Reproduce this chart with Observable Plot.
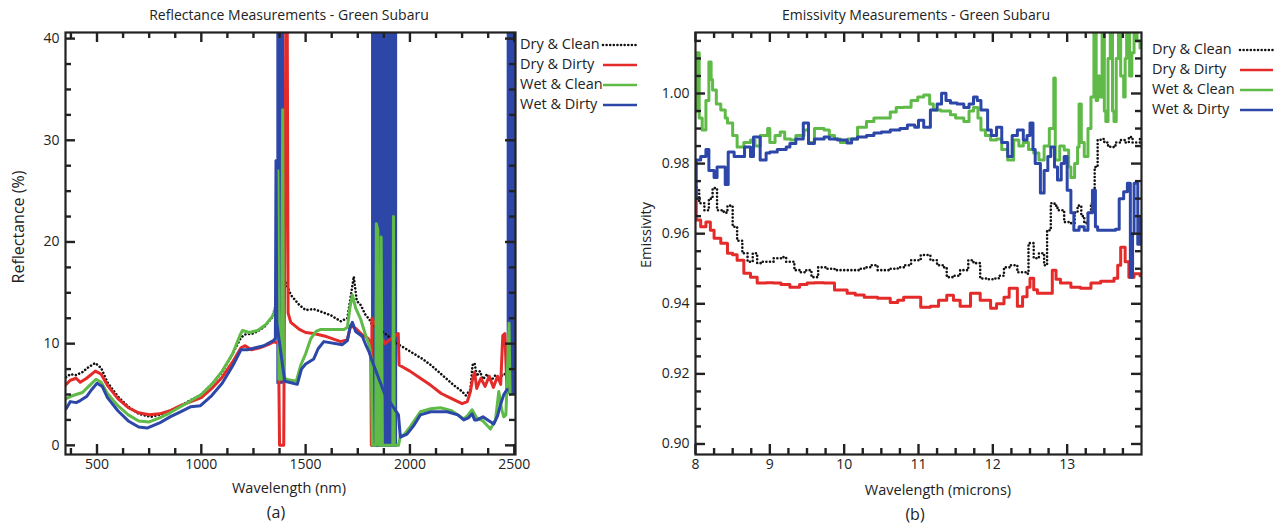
<!DOCTYPE html>
<html><head><meta charset="utf-8">
<script src="https://cdn.jsdelivr.net/npm/d3@7"></script>
<script src="https://cdn.jsdelivr.net/npm/@observablehq/plot@0.6"></script>
<style>
body{margin:0;background:#fff;font-family:"Open Sans",sans-serif;}
#wrap{position:relative;width:1278px;height:528px;overflow:hidden;background:#fff;}
.abs{position:absolute;white-space:nowrap;color:#222;line-height:1;}
.plot{position:absolute;top:0;}
</style></head><body><div id="wrap"></div>
<script>
// ---------- Panel (a): Reflectance (%) vs wavelength (nm) ----------
const dryCleanA = [[352,6.7],[372,7.0],[400,6.9],[430,7.2],[460,7.7],[492,8.1],[520,7.6],[550,6.2],[600,4.8],[650,3.8],[700,3.1],[757,2.8],[800,3.0],[850,3.4],[900,3.9],[963,4.6],[1000,5.0],[1050,6.0],[1100,7.2],[1150,9.0],[1190,10.6],[1210,10.9],[1250,11.0],[1300,11.6],[1340,12.6],[1360,14.0],[1375,13.0],[1390,14.5],[1405,16.0],[1429,14.8],[1470,13.8],[1500,13.3],[1539,13.4],[1580,13.1],[1620,12.8],[1668,12.2],[1700,12.5],[1715,14.5],[1731,16.6],[1745,14.2],[1764,13.8],[1785,12.9],[1805,12.4],[1815,12.0],[1880,11],[1946,9.9],[1980,9.5],[2020,9.0],[2060,8.5],[2100,7.9],[2150,7.0],[2211,5.9],[2250,5.3],[2268,4.9],[2290,5.5],[2300,7.9],[2310,8.1],[2320,6.8],[2335,7.3],[2350,6.5],[2370,7.0],[2390,6.4],[2410,6.9],[2430,6.5],[2445,7.0],[2460,7.0]];
const dryDirtyA = [[352,6.0],[372,6.4],[400,6.6],[420,6.2],[450,6.6],[492,7.3],[520,7.0],[550,5.9],[600,4.6],[650,3.7],[700,3.2],[750,3.0],[800,3.1],[850,3.4],[900,3.9],[950,4.3],[1000,4.7],[1050,5.6],[1100,6.7],[1150,8.2],[1190,9.6],[1210,9.8],[1240,9.4],[1280,9.6],[1320,9.9],[1350,10.2],[1370,10.0],[1375,0],[1395,0],[1400,20],[1405,41],[1412,41],[1416,13.0],[1429,12.1],[1470,11.4],[1500,11.1],[1539,11.0],[1600,10.7],[1668,10.2],[1700,10.4],[1716,11.8],[1740,11.5],[1770,10.9],[1800,10.5],[1812,10.0],[1815,0],[1818,12.5],[1880,10],[1944,11],[1948,7.9],[2000,7.3],[2050,6.6],[2100,5.9],[2150,5.1],[2200,4.6],[2250,4.1],[2275,4.3],[2290,5.3],[2300,6.5],[2310,7.2],[2320,5.6],[2340,6.6],[2360,5.8],[2380,6.8],[2400,5.7],[2420,6.8],[2435,6.0],[2445,10.8],[2455,11.0],[2465,5.5]];
const wetCleanA = [[352,4.6],[372,4.8],[400,5.0],[430,5.2],[460,5.8],[495,6.5],[520,6.2],[550,5.1],[600,3.9],[650,3.0],[700,2.4],[750,2.3],[800,2.7],[850,3.2],[900,3.8],[950,4.4],[1000,5.0],[1050,6.0],[1100,7.3],[1150,9.0],[1185,10.8],[1197,11.3],[1230,11.1],[1270,11.3],[1310,11.9],[1345,12.8],[1362,14],[1367,27],[1372,6.5],[1384,6.5],[1390,33],[1394,7],[1405,6.5],[1429,6.4],[1455,6.3],[1477,7.9],[1500,9.0],[1525,10.5],[1550,11.2],[1573,11.4],[1684,11.4],[1700,11.6],[1712,13.5],[1724,14.8],[1740,13.5],[1764,12.4],[1785,11.0],[1804,9.9],[1815,8.5],[1820,0],[1836,0],[1839,21.8],[1846,21.2],[1850,0],[1858,0],[1862,20.5],[1868,0],[1918,0],[1921,22.5],[1925,0],[1945,0],[1955,1.0],[1970,1.0],[2000,1.8],[2050,3.3],[2100,3.6],[2146,3.7],[2200,3.4],[2258,2.6],[2275,2.9],[2298,3.5],[2320,2.7],[2350,2.4],[2386,1.6],[2410,2.5],[2426,5.3],[2440,3.5],[2450,2.8],[2460,3.0],[2475,12],[2480,5]];
const wetDirtyA = [[352,3.6],[372,4.3],[400,4.2],[420,4.4],[450,4.8],[475,5.5],[500,6.1],[525,5.8],[550,4.7],[600,3.4],[650,2.4],[700,1.8],[740,1.7],[800,2.2],[850,2.8],[900,3.3],[950,3.8],[996,3.9],[1050,4.9],[1100,6.1],[1150,7.8],[1190,9.4],[1221,9.4],[1260,9.6],[1300,9.8],[1345,10.3],[1355,10.5],[1358,28],[1362,12],[1400,6.3],[1420,6.2],[1460,6.0],[1480,7.5],[1500,8.0],[1539,8.5],[1560,9.5],[1587,10.2],[1676,9.9],[1700,10.3],[1712,11.5],[1724,12.1],[1740,11.2],[1772,10.7],[1790,9.8],[1804,9.2],[1815,8.5],[1880,5],[1945,3],[1954,0.8],[1986,1.1],[2020,2.0],[2050,3.0],[2100,3.3],[2178,3.3],[2230,3.0],[2258,2.5],[2280,2.7],[2298,3.1],[2310,2.5],[2322,2.5],[2350,2.8],[2380,2.4],[2402,2.1],[2420,2.9],[2434,4.0],[2450,5.0],[2466,5.5]];
// saturated (rapidly oscillating) Wet & Dirty absorption bands: [start nm, end nm, low %, high %]
const wetDirtyBandsA = [[1362,1400,6,41],[1816,1941,-0.2,41],[2466,2506,5,41]];
const xMajorA = [500,1000,1500,2000,2500];
const xMinorA = [375,625,750,875,1125,1250,1375,1625,1750,1875,2125,2250,2375];
const yMajorA = [0,10,20,30,40];
const yMinorA = [2.5,5,7.5,12.5,15,17.5,22.5,25,27.5,32.5,35,37.5];

// ---------- Panel (b): Emissivity vs wavelength (microns) ----------
const dryCleanB = [[8.00,0.9724],[8.05,0.9687],[8.12,0.9667],[8.18,0.970],[8.23,0.973],[8.29,0.9667],[8.38,0.966],[8.43,0.968],[8.50,0.962],[8.56,0.958],[8.63,0.9544],[8.70,0.952],[8.77,0.9544],[8.83,0.9516],[8.90,0.952],[8.97,0.952],[9.05,0.953],[9.15,0.9533],[9.22,0.952],[9.33,0.9496],[9.40,0.949],[9.49,0.9496],[9.56,0.9476],[9.65,0.9504],[9.75,0.950],[9.87,0.9496],[10.00,0.9496],[10.10,0.9496],[10.20,0.950],[10.27,0.9504],[10.35,0.951],[10.45,0.9496],[10.60,0.950],[10.72,0.9504],[10.82,0.951],[10.90,0.9524],[11.03,0.9539],[11.16,0.9524],[11.25,0.951],[11.34,0.9504],[11.38,0.9476],[11.47,0.948],[11.56,0.9496],[11.67,0.9524],[11.74,0.9516],[11.83,0.9472],[11.92,0.947],[12.00,0.9472],[12.08,0.948],[12.15,0.9504],[12.24,0.951],[12.33,0.949],[12.44,0.9486],[12.48,0.9573],[12.55,0.953],[12.62,0.9544],[12.69,0.951],[12.73,0.961],[12.78,0.9687],[12.83,0.968],[12.87,0.9667],[12.96,0.9633],[13.05,0.963],[13.10,0.966],[13.14,0.968],[13.19,0.965],[13.23,0.963],[13.28,0.966],[13.32,0.9687],[13.37,0.979],[13.41,0.9867],[13.45,0.987],[13.50,0.986],[13.55,0.985],[13.58,0.9847],[13.65,0.986],[13.72,0.9867],[13.78,0.986],[13.83,0.9876],[13.88,0.986],[13.94,0.986],[13.98,0.987]];
const dryDirtyB = [[8.00,0.9733],[8.01,0.9639],[8.07,0.962],[8.14,0.9633],[8.20,0.961],[8.25,0.9587],[8.34,0.9573],[8.43,0.9544],[8.50,0.954],[8.56,0.9524],[8.65,0.9487],[8.74,0.9476],[8.83,0.9459],[8.95,0.946],[9.05,0.9459],[9.15,0.9455],[9.27,0.9447],[9.40,0.9455],[9.50,0.9459],[9.60,0.946],[9.73,0.9459],[9.87,0.9439],[10.04,0.943],[10.15,0.9425],[10.27,0.9419],[10.45,0.9416],[10.62,0.9404],[10.72,0.941],[10.80,0.9419],[10.95,0.9419],[11.03,0.939],[11.16,0.9393],[11.27,0.941],[11.38,0.9424],[11.47,0.941],[11.56,0.9393],[11.70,0.943],[11.83,0.941],[11.97,0.9387],[12.05,0.940],[12.15,0.9419],[12.22,0.9444],[12.33,0.9393],[12.40,0.942],[12.46,0.9447],[12.50,0.9473],[12.55,0.944],[12.60,0.943],[12.73,0.943],[12.80,0.9496],[12.85,0.947],[12.91,0.9459],[13.05,0.9447],[13.18,0.9444],[13.32,0.9459],[13.45,0.9464],[13.63,0.9473],[13.68,0.951],[13.72,0.9561],[13.78,0.952],[13.83,0.9476],[13.90,0.9486],[13.98,0.948]];
const wetCleanB = [[8.00,0.995],[8.02,1.0116],[8.05,0.993],[8.09,0.9896],[8.14,0.998],[8.18,1.009],[8.21,1.004],[8.23,1.001],[8.28,0.997],[8.34,0.9953],[8.40,0.993],[8.43,0.9916],[8.50,0.988],[8.56,0.9847],[8.65,0.986],[8.74,0.9867],[8.80,0.985],[8.87,0.988],[8.97,0.990],[9.00,0.986],[9.07,0.988],[9.14,0.989],[9.20,0.987],[9.28,0.9867],[9.35,0.988],[9.46,0.9896],[9.52,0.986],[9.60,0.990],[9.73,0.9896],[9.80,0.988],[9.87,0.987],[9.95,0.986],[10.05,0.987],[10.18,0.9904],[10.30,0.992],[10.40,0.993],[10.50,0.993],[10.62,0.9947],[10.70,0.996],[10.80,0.9961],[10.90,0.998],[10.99,0.999],[11.07,0.9996],[11.15,0.997],[11.20,0.9953],[11.30,0.995],[11.43,0.9939],[11.50,0.993],[11.61,0.992],[11.68,0.995],[11.74,0.996],[11.80,0.993],[11.84,0.9896],[11.90,0.988],[11.97,0.9867],[12.05,0.987],[12.12,0.984],[12.20,0.981],[12.28,0.9867],[12.35,0.985],[12.41,0.986],[12.48,0.984],[12.55,0.983],[12.62,0.981],[12.69,0.985],[12.76,0.990],[12.82,1.0044],[12.84,0.981],[12.90,0.985],[12.96,0.9839],[13.02,0.979],[13.05,0.976],[13.10,0.980],[13.14,0.9847],[13.16,0.997],[13.19,0.986],[13.23,0.982],[13.28,0.990],[13.32,0.999],[13.36,1.02],[13.39,0.998],[13.41,1.005],[13.44,0.999],[13.47,1.02],[13.50,0.995],[13.52,0.992],[13.55,1.01],[13.58,1.02],[13.61,0.995],[13.63,0.992],[13.66,1.01],[13.69,1.02],[13.72,1.005],[13.76,0.999],[13.78,1.01],[13.80,1.02],[13.84,1.005],[13.87,1.0116],[13.90,1.02],[13.94,1.015],[13.98,1.013]];
const wetDirtyB = [[8.00,0.970],[8.01,0.981],[8.07,0.982],[8.14,0.984],[8.18,0.978],[8.25,0.976],[8.29,0.979],[8.36,0.979],[8.40,0.974],[8.44,0.9833],[8.52,0.982],[8.60,0.982],[8.66,0.9847],[8.74,0.982],[8.78,0.9876],[8.87,0.981],[8.95,0.983],[9.00,0.9833],[9.10,0.984],[9.22,0.9847],[9.27,0.9857],[9.35,0.987],[9.45,0.9916],[9.52,0.9857],[9.60,0.987],[9.73,0.9876],[9.80,0.987],[9.91,0.9867],[10.04,0.9859],[10.10,0.987],[10.18,0.9876],[10.30,0.988],[10.40,0.9887],[10.50,0.989],[10.62,0.9896],[10.75,0.990],[10.85,0.991],[10.95,0.9904],[11.00,0.9924],[11.07,0.9904],[11.16,0.9953],[11.25,0.997],[11.31,1.0001],[11.37,0.998],[11.43,0.9973],[11.52,0.997],[11.61,0.996],[11.68,0.997],[11.74,0.999],[11.79,0.998],[11.84,0.9953],[11.93,0.9896],[11.98,0.988],[12.05,0.9904],[12.12,0.986],[12.20,0.982],[12.26,0.988],[12.33,0.9896],[12.41,0.9867],[12.46,0.988],[12.50,0.9916],[12.54,0.984],[12.57,0.980],[12.64,0.9716],[12.69,0.978],[12.74,0.982],[12.78,0.9847],[12.83,0.979],[12.87,0.9753],[12.92,0.980],[12.96,0.982],[13.00,0.9724],[13.05,0.966],[13.09,0.961],[13.16,0.962],[13.23,0.961],[13.28,0.966],[13.34,0.9724],[13.38,0.962],[13.41,0.961],[13.50,0.961],[13.58,0.961],[13.65,0.9613],[13.70,0.970],[13.76,0.972],[13.81,0.9744],[13.85,0.9476],[13.88,0.960],[13.90,0.9744],[13.95,0.957],[13.98,0.965]];
const xMajorB = [8,9,10,11,12,13];
const xMinorB = [8.25,8.5,8.75,9.25,9.5,9.75,10.25,10.5,10.75,11.25,11.5,11.75,12.25,12.5,12.75,13.25,13.5,13.75];
const yMajorB = [0.90,0.92,0.94,0.96,0.98,1.00];
const yMinorB = [0.905,0.91,0.915,0.925,0.93,0.935,0.945,0.95,0.955,0.965,0.97,0.975,0.985,0.99,0.995,1.005,1.01,1.015];

const seriesNames = ["Dry & Clean","Dry & Dirty","Wet & Clean","Wet & Dirty"];
const seriesColors = ["#111111","#e52a2a","#5fba47","#2d47a9"];

const FONT = '"Open Sans", sans-serif';
const INK = "#222";
const H = 528, MT = 32, MB = 74;
const innerH = H - MT - MB;

// inward-pointing ticks on all four sides of the frame, as short rules
function frameMarks(innerW, xDom, yDom, xMaj, xMin, yMaj, yMin, fmtX, fmtY) {
  const s = {stroke: INK, strokeWidth: 2.4};
  const ky = (yDom[1] - yDom[0]) / innerH;   // data units per pixel (y)
  const kx = (xDom[1] - xDom[0]) / innerW;   // data units per pixel (x)
  const tx = (ticks, len) => [
    Plot.ruleX(ticks, {...s, x: d => d, y1: yDom[0], y2: yDom[0] + len * ky}),
    Plot.ruleX(ticks, {...s, x: d => d, y1: yDom[1], y2: yDom[1] - len * ky})
  ];
  const ty = (ticks, len) => [
    Plot.ruleY(ticks, {...s, y: d => d, x1: xDom[0], x2: xDom[0] + len * kx}),
    Plot.ruleY(ticks, {...s, y: d => d, x1: xDom[1], x2: xDom[1] - len * kx})
  ];
  return [
    ...tx(xMaj, 10), ...tx(xMin, 6), ...ty(yMaj, 10), ...ty(yMin, 6),
    Plot.frame({stroke: INK, strokeWidth: 2.2}),
    Plot.axisX({anchor: "bottom", ticks: xMaj, tickSize: 0, tickPadding: 5, tickFormat: fmtX, label: null, fontSize: 14, fill: INK}),
    Plot.axisY({anchor: "left", ticks: yMaj, tickSize: 0, tickPadding: 6, tickFormat: fmtY, label: null, fontSize: 14, fill: INK})
  ];
}

function lineMarks(sets, curve, w) {
  return sets.map((data, i) => {
    const o = {x: d => d[0], y: d => d[1], stroke: seriesColors[i], strokeWidth: w, curve, clip: true};
    if (i === 0) Object.assign(o, {strokeWidth: 2.6, strokeDasharray: "0.01,3.6", strokeLinecap: "round"});
    return Plot.line(data, o);
  });
}

const wrap = document.getElementById("wrap");

const WA = 640, MLA = 65, MRA = 125;
const xDomA = [349, 2506], yDomA = [-0.9, 40.6];
const plotA = Plot.plot({
  width: WA, height: H,
  marginLeft: MLA, marginRight: MRA, marginTop: MT, marginBottom: MB,
  style: {fontFamily: FONT, background: "transparent", color: INK},
  x: {domain: xDomA},
  y: {domain: yDomA},
  marks: [
    Plot.rect(wetDirtyBandsA, {x1: d => d[0], x2: d => d[1], y1: d => d[2], y2: d => d[3], fill: seriesColors[3], clip: true}),
    ...lineMarks([dryCleanA, dryDirtyA, wetCleanA, wetDirtyA], "linear", 3),
    ...frameMarks(WA - MLA - MRA, xDomA, yDomA, xMajorA, xMinorA, yMajorA, yMinorA, d => String(d), d => String(d))
  ]
});
plotA.classList.add("plot"); plotA.style.left = "0px";
wrap.appendChild(plotA);

const WB = 638, MLB = 55, MRB = 137;
const xDomB = [8, 14], yDomB = [0.897, 1.0174];
const plotB = Plot.plot({
  width: WB, height: H,
  marginLeft: MLB, marginRight: MRB, marginTop: MT, marginBottom: MB,
  style: {fontFamily: FONT, background: "transparent", color: INK},
  x: {domain: xDomB},
  y: {domain: yDomB},
  marks: [
    ...lineMarks([dryCleanB, dryDirtyB, wetCleanB, wetDirtyB], "step-after", 3),
    ...frameMarks(WB - MLB - MRB, xDomB, yDomB, xMajorB, xMinorB, yMajorB, yMinorB, d => String(d), d3.format(".2f"))
  ]
});
plotB.classList.add("plot"); plotB.style.left = "640px";
wrap.appendChild(plotB);

function addText(txt, x, y, size, rotate) {
  const el = document.createElement("div");
  el.className = "abs";
  el.textContent = txt;
  el.style.left = x + "px"; el.style.top = y + "px";
  el.style.fontSize = size + "px";
  el.style.transform = "translate(-50%,-50%)" + (rotate ? " rotate(-90deg)" : "");
  wrap.appendChild(el);
}
addText("Reflectance Measurements - Green Subaru", 289, 15, 14);
addText("Emissivity Measurements - Green Subaru", 916, 15, 14);
addText("Wavelength (nm)", 289, 488, 14.5);
addText("Wavelength (microns)", 938, 490, 14.5);
addText("(a)", 276, 512, 16);
addText("(b)", 915, 514, 16);
addText("Reflectance (%)", 18, 227, 16, true);
addText("Emissivity", 646, 235, 14.5, true);

function addLegend(textX, rowY, lineX1, lineX2) {
  seriesNames.forEach((name, i) => {
    const el = document.createElement("div");
    el.className = "abs";
    el.textContent = name;
    el.style.left = textX + "px"; el.style.top = rowY[i] + "px";
    el.style.fontSize = "14.5px";
    el.style.transform = "translateY(-55%)";
    wrap.appendChild(el);
    const ns = "http://www.w3.org/2000/svg";
    const svg = document.createElementNS(ns, "svg");
    svg.setAttribute("width", lineX2 - lineX1 + 4);
    svg.setAttribute("height", 8);
    svg.style.position = "absolute";
    svg.style.left = (lineX1 - 2) + "px";
    svg.style.top = (rowY[i] - 4) + "px";
    const ln = document.createElementNS(ns, "line");
    ln.setAttribute("x1", 2); ln.setAttribute("x2", lineX2 - lineX1 + 2);
    ln.setAttribute("y1", 4); ln.setAttribute("y2", 4);
    ln.setAttribute("stroke", seriesColors[i]);
    ln.setAttribute("stroke-width", 2.6);
    if (i === 0) { ln.setAttribute("stroke-dasharray", "0.01,3.6"); ln.setAttribute("stroke-linecap", "round"); }
    svg.appendChild(ln);
    wrap.appendChild(svg);
  });
}
addLegend(520, [45, 65, 85, 105], 603, 637);
addLegend(1152, [50, 70, 90, 110], 1240, 1273);
</script></body></html>
